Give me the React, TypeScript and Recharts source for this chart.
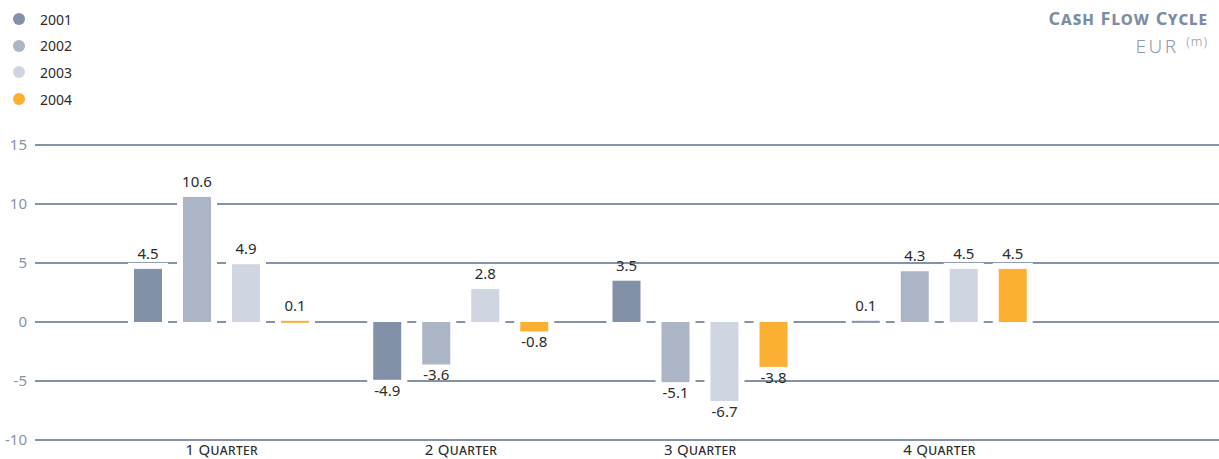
import React from 'react';
import { BarChart, Bar, XAxis, YAxis, CartesianGrid, LabelList } from 'recharts';

const categories = ['1 Quarter', '2 Quarter', '3 Quarter', '4 Quarter'];
const years = ['2001', '2002', '2003', '2004'];
const values2001 = [4.5, -4.9, 3.5, 0.1];
const values2002 = [10.6, -3.6, -5.1, 4.3];
const values2003 = [4.9, 2.8, -6.7, 4.5];
const values2004 = [0.1, -0.8, -3.8, 4.5];
const yTicks = [-10, -5, 0, 5, 10, 15];
const colors = ['#8290a8', '#abb5c5', '#d0d6e1', '#fbb034'];

const seriesValues = [values2001, values2002, values2003, values2004];
const data = categories.map((c, i) => {
  const row: any = { name: c };
  years.forEach((y, k) => {
    row['y' + y] = seriesValues[k][i];
  });
  return row;
});

const FONT = '"Noto Sans", "Open Sans", sans-serif';

const BarShape = (props: any) => {
  const { x, y, width, height, fill } = props;
  const y0 = Math.min(y, y + height);
  const h = Math.max(Math.abs(height), 2);
  const pad = 6;
  return (
    <g>
      <rect x={x - pad} y={y0 - pad} width={width + pad * 2} height={h + pad * 2} fill="#ffffff" />
      <rect x={x} y={y0} width={width} height={h} fill={fill} />
    </g>
  );
};

const ValueLabel = (props: any) => {
  const { x, y, width, height, value } = props;
  const cx = x + width / 2;
  const top = Math.min(y, y + height);
  const bottom = Math.max(y, y + height);
  const neg = value < 0;
  const ty = neg ? bottom + 16 : top - 10;
  return (
    <text x={cx} y={ty} textAnchor="middle" fontFamily={FONT} fontSize={15} fill="#2b2b2b">
      {value.toFixed(1)}
    </text>
  );
};

const CatTick = (props: any) => {
  const { x, payload } = props;
  return (
    <text
      x={x}
      y={455}
      textAnchor="middle"
      fontFamily={FONT}
      fontSize={15}
      letterSpacing={0.3}
      fill="#2b2b2b"
      style={{ fontVariant: 'small-caps' }}
    >
      {payload.value}
    </text>
  );
};

export default function App() {
  return (
    <div style={{ position: 'absolute', left: 0, top: 0, width: 1219, height: 459, background: '#fff' }}>
      <BarChart
        width={1219}
        height={459}
        data={data}
        margin={{ top: 145, right: 0, bottom: 0, left: 0 }}
        barCategoryGap={32}
        barGap={21}
        barSize={28}
      >
        <CartesianGrid horizontal vertical={false} stroke="#8593aa" strokeWidth={2} />
        <XAxis
          dataKey="name"
          axisLine={false}
          tickLine={false}
          height={19}
          padding={{ left: 67, right: 160 }}
          tick={<CatTick />}
          interval={0}
        />
        <YAxis
          domain={[-10, 15]}
          ticks={yTicks}
          width={35}
          axisLine={false}
          tickLine={false}
          tick={{ fill: '#8593aa', fontSize: 15, fontFamily: FONT }}
        />
        {years.map((yr, k) => (
          <Bar key={yr} dataKey={'y' + yr} fill={colors[k]} isAnimationActive={false} shape={<BarShape />}>
            <LabelList dataKey={'y' + yr} content={<ValueLabel />} />
          </Bar>
        ))}
      </BarChart>

      <div style={{ position: 'absolute', left: 0, top: 0 }}>
        {years.map((yr, k) => (
          <div
            key={yr}
            style={{
              position: 'absolute',
              left: 13,
              top: 19 + k * 26.7 - 10,
              height: 20,
              display: 'flex',
              alignItems: 'center',
              whiteSpace: 'nowrap',
              fontFamily: FONT,
              fontSize: 14,
              color: '#2b2b2b',
            }}
          >
            <span
              style={{
                display: 'inline-block',
                width: 12,
                height: 12,
                borderRadius: 6,
                background: colors[k],
                marginRight: 15,
              }}
            />
            {yr}
          </div>
        ))}
      </div>

      <div
        style={{
          position: 'absolute',
          right: 11,
          top: 6,
          fontFamily: FONT,
          fontWeight: 700,
          fontSize: 18,
          fontVariant: 'small-caps',
          letterSpacing: 1,
          color: '#7d8ca5',
          whiteSpace: 'nowrap',
        }}
      >
        Cash Flow Cycle
      </div>
      <div
        style={{
          position: 'absolute',
          right: 11,
          top: 33,
          fontFamily: FONT,
          fontWeight: 300,
          fontSize: 19,
          letterSpacing: 2.5,
          color: '#8e9ab0',
          whiteSpace: 'nowrap',
        }}
      >
        EUR <span style={{ fontSize: 13, verticalAlign: 'top', position: 'relative', top: -1, letterSpacing: 1 }}>(m)</span>
      </div>
    </div>
  );
}
